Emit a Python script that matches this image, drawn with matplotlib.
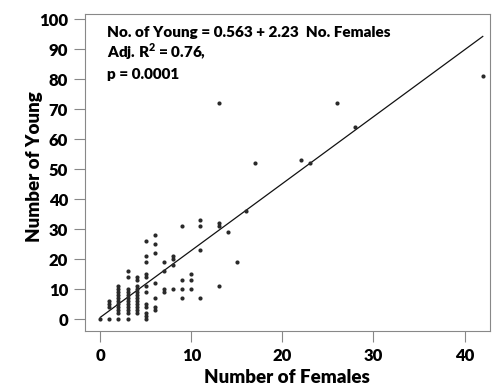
import matplotlib
matplotlib.use("Agg")
import matplotlib.pyplot as plt
import numpy as np

plt.rcParams['font.family'] = ['Lato', 'DejaVu Sans']
plt.rcParams['font.weight'] = 'heavy'
plt.rcParams['mathtext.fontset'] = 'custom'
plt.rcParams['mathtext.rm'] = 'Lato:heavy'
plt.rcParams['mathtext.bf'] = 'Lato:heavy'

# number of females, number of young
females = [0,
           1, 1, 1, 1,
           2, 2, 2, 2, 2, 2, 2, 2, 2, 2, 2,
           3, 3, 3, 3, 3, 3, 3, 3, 3, 3, 3, 3,
           4, 4, 4, 4, 4, 4, 4, 4, 4, 4, 4, 4,
           5, 5, 5, 5, 5, 5, 5, 5, 5, 5, 5, 5,
           6, 6, 6, 6, 6, 6, 6,
           7, 7, 7, 7,
           8, 8, 8, 8,
           9, 9, 9, 9,
           10, 10, 10,
           11, 11, 11, 11,
           13, 13, 13, 13,
           14, 15, 16, 17, 22, 23, 26, 28, 42]
young = [0,
         0, 4, 5, 6,
         0, 2, 3, 4, 5, 6, 7, 8, 9, 10, 11,
         0, 2, 3, 4, 5, 6, 7, 8, 9, 10, 14, 16,
         2, 3, 4, 5, 6, 7, 8, 9, 10, 11, 13, 14,
         0, 1, 2, 4, 5, 9, 11, 14, 15, 19, 21, 26,
         3, 4, 7, 12, 22, 25, 28,
         9, 10, 16, 19,
         10, 18, 20, 21,
         7, 10, 13, 31,
         10, 13, 15,
         7, 23, 31, 33,
         11, 31, 32, 72,
         29, 19, 36, 52, 53, 52, 72, 64, 81]

intercept = 0.563
slope = 2.23
line_x = [0, 42]

fig = plt.figure(figsize=(4.93, 3.89), dpi=100)
ax = fig.add_axes([0.172, 0.149, 0.822, 0.815])

ax.scatter(females, young, s=9, color='#2a2a2a', zorder=3, linewidths=0)
lx = np.array(line_x)
ax.plot(lx, intercept + slope * lx, color='#111111', lw=0.9, zorder=2)

ax.set_xlim(-1.7, 42.8)
ax.set_ylim(-4, 101.7)
ax.set_xticks([0, 10, 20, 30, 40])
ax.set_yticks(range(0, 101, 10))
ax.tick_params(direction='out', length=8, width=0.8, color='#888888',
               labelsize=12, pad=4)
for lab in ax.get_xticklabels() + ax.get_yticklabels():
    lab.set_fontweight('heavy')
for sp in ax.spines.values():
    sp.set_color('#888888')
    sp.set_linewidth(0.8)

ax.set_xlabel('Number of Females', fontsize=13.5, fontweight='heavy', labelpad=4)
ax.set_ylabel('Number of Young', fontsize=13.5, fontweight='heavy')
ax.yaxis.set_label_coords(-0.104, 0.52)

ax.text(0.054, 0.9265, 'No. of Young = 0.563 + 2.23  No. Females',
        transform=ax.transAxes, fontsize=11, fontweight='heavy', va='baseline')
ax.text(0.054, 0.863, r'Adj. R$^{2}$ = 0.76,',
        transform=ax.transAxes, fontsize=11, fontweight='heavy', va='baseline')
ax.text(0.054, 0.795, 'p = 0.0001',
        transform=ax.transAxes, fontsize=11, fontweight='heavy', va='baseline')

fig.savefig('out.png', dpi=100)
